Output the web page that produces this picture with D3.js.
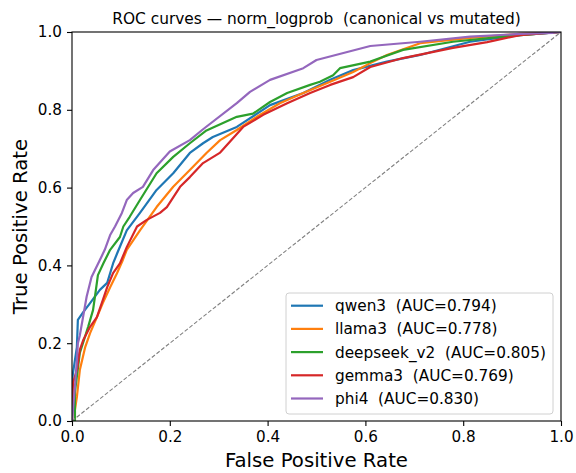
<!DOCTYPE html>
<html>
<head>
<meta charset="utf-8">
<script src="https://cdn.jsdelivr.net/npm/d3@7"></script>
<style>
  body { margin: 0; background: #fff; }
  svg { font-family: "DejaVu Sans", sans-serif; }
</style>
</head>
<body>
<div id="chart"></div>
<script>
// models and their AUC values
var models = ["qwen3", "llama3", "deepseek_v2", "gemma3", "phi4"];
var aucs = ["0.794", "0.778", "0.805", "0.769", "0.830"];
var colors = ["#1f77b4", "#ff7f0e", "#2ca02c", "#d62728", "#9467bd"];
var ticks = [0, 0.2, 0.4, 0.6, 0.8, 1.0];

// ROC points (fpr, tpr)
var qwen3Fpr = [0, 0, 0.002, 0.010, 0.012, 0.023, 0.037, 0.057, 0.072, 0.084, 0.092, 0.112, 0.139, 0.173, 0.207, 0.241, 0.268, 0.288, 0.337, 0.405, 0.473, 0.528, 0.575, 0.644, 0.712, 0.814, 0.916, 1.0];
var qwen3Tpr = [0, 0.10, 0.123, 0.19, 0.26, 0.28, 0.303, 0.337, 0.355, 0.405, 0.43, 0.49, 0.535, 0.594, 0.637, 0.689, 0.714, 0.73, 0.756, 0.812, 0.843, 0.877, 0.902, 0.924, 0.941, 0.975, 0.992, 1.0];

var llama3Fpr = [0, 0.006, 0.006, 0.010, 0.016, 0.027, 0.037, 0.051, 0.063, 0.078, 0.092, 0.104, 0.112, 0.139, 0.173, 0.207, 0.241, 0.275, 0.303, 0.337, 0.378, 0.425, 0.473, 0.528, 0.575, 0.61, 0.644, 0.712, 0.814, 0.916, 1.0];
var llama3Tpr = [0, 0, 0.028, 0.062, 0.131, 0.19, 0.226, 0.267, 0.303, 0.344, 0.38, 0.414, 0.44, 0.49, 0.55, 0.602, 0.645, 0.689, 0.722, 0.748, 0.782, 0.817, 0.843, 0.872, 0.897, 0.92, 0.941, 0.971, 0.985, 0.995, 1.0];

var deepseekFpr = [0, 0.006, 0.006, 0.016, 0.033, 0.043, 0.047, 0.053, 0.064, 0.078, 0.098, 0.105, 0.118, 0.139, 0.173, 0.207, 0.241, 0.275, 0.337, 0.37, 0.405, 0.44, 0.487, 0.507, 0.534, 0.548, 0.61, 0.677, 0.779, 0.881, 0.95, 1.0];
var deepseekTpr = [0, 0, 0.075, 0.175, 0.242, 0.285, 0.32, 0.375, 0.405, 0.44, 0.473, 0.5, 0.525, 0.568, 0.637, 0.679, 0.714, 0.747, 0.782, 0.79, 0.82, 0.843, 0.864, 0.872, 0.889, 0.907, 0.924, 0.954, 0.975, 0.988, 0.995, 1.0];

var gemma3Fpr = [0, 0.002, 0.010, 0.016, 0.023, 0.037, 0.051, 0.063, 0.072, 0.084, 0.098, 0.112, 0.133, 0.153, 0.18, 0.194, 0.207, 0.221, 0.241, 0.268, 0.303, 0.35, 0.391, 0.44, 0.487, 0.528, 0.575, 0.61, 0.677, 0.779, 0.849, 0.916, 0.98, 1.0];
var gemma3Tpr = [0, 0.098, 0.131, 0.183, 0.208, 0.242, 0.267, 0.311, 0.344, 0.38, 0.405, 0.447, 0.5, 0.517, 0.535, 0.55, 0.575, 0.602, 0.627, 0.663, 0.69, 0.756, 0.787, 0.817, 0.843, 0.864, 0.884, 0.91, 0.933, 0.959, 0.974, 0.992, 0.998, 1.0];

var phi4Fpr = [0, 0.006, 0.010, 0.012, 0.016, 0.030, 0.040, 0.047, 0.057, 0.067, 0.078, 0.088, 0.102, 0.112, 0.125, 0.145, 0.166, 0.2, 0.241, 0.268, 0.337, 0.364, 0.405, 0.473, 0.5, 0.61, 0.712, 0.814, 0.916, 0.984, 1.0];
var phi4Tpr = [0, 0.088, 0.157, 0.2, 0.22, 0.32, 0.37, 0.388, 0.414, 0.44, 0.478, 0.5, 0.535, 0.568, 0.586, 0.602, 0.645, 0.693, 0.722, 0.75, 0.817, 0.846, 0.877, 0.907, 0.928, 0.964, 0.975, 0.988, 0.995, 0.998, 1.0];

var fprs = [qwen3Fpr, llama3Fpr, deepseekFpr, gemma3Fpr, phi4Fpr];
var tprs = [qwen3Tpr, llama3Tpr, deepseekTpr, gemma3Tpr, phi4Tpr];

var margin = { top: 32, right: 15, bottom: 52, left: 72 };
var width = 576 - margin.left - margin.right,
    height = 473 - margin.top - margin.bottom;

var svg = d3.select("#chart").append("svg")
  .attr("width", 576)
  .attr("height", 473);

var g = svg.append("g")
  .attr("transform", "translate(" + margin.left + "," + margin.top + ")");

var x = d3.scaleLinear().domain([0, 1]).range([0, width]);
var y = d3.scaleLinear().domain([0, 1]).range([height, 0]);

g.append("defs").append("clipPath").attr("id", "clip")
  .append("rect").attr("width", width).attr("height", height);

var line = d3.line()
  .x(d => x(d[0]))
  .y(d => y(d[1]));

var plot = g.append("g").attr("clip-path", "url(#clip)");

models.forEach(function (m, i) {
  var pts = fprs[i].map((f, j) => [f, tprs[i][j]]);
  plot.append("path")
    .attr("d", line(pts))
    .attr("fill", "none")
    .attr("stroke", colors[i])
    .attr("stroke-width", 2.2)
    .attr("stroke-linejoin", "round");
});

// chance diagonal
plot.append("path")
  .attr("d", line([[0, 0], [1, 1]]))
  .attr("fill", "none")
  .attr("stroke", "#808080")
  .attr("stroke-width", 1.1)
  .attr("stroke-dasharray", "4,2");

// axes
var xAxis = d3.axisBottom(x).tickValues(ticks).tickFormat(d3.format(".1f")).tickSize(5).tickPadding(5);
var yAxis = d3.axisLeft(y).tickValues(ticks).tickFormat(d3.format(".1f")).tickSize(5).tickPadding(5);

g.append("g")
  .attr("transform", "translate(0," + height + ")")
  .call(xAxis)
  .call(a => a.select(".domain").remove());

g.append("g")
  .call(yAxis)
  .call(a => a.select(".domain").remove());

g.selectAll(".tick text").attr("font-size", 15.2).attr("fill", "#000").attr("font-family", "DejaVu Sans");
g.selectAll(".tick line").attr("stroke", "#000").attr("stroke-width", 1.1);

g.append("rect")
  .attr("width", width).attr("height", height)
  .attr("fill", "none").attr("stroke", "#000").attr("stroke-width", 1.1);

// titles
svg.append("text")
  .attr("x", margin.left + width / 2).attr("y", 24)
  .attr("text-anchor", "middle").attr("font-size", 15.4)
  .style("white-space", "pre")
  .text("ROC curves \u2014 norm_logprob  (canonical vs mutated)");

svg.append("text")
  .attr("x", margin.left + width / 2).attr("y", 467)
  .attr("text-anchor", "middle").attr("font-size", 19.7)
  .text("False Positive Rate");

svg.append("text")
  .attr("transform", "translate(27," + (margin.top + height / 2) + ") rotate(-90)")
  .attr("text-anchor", "middle").attr("font-size", 19.7)
  .text("True Positive Rate");

// legend
var legend = svg.append("g").attr("transform", "translate(286,293)");
legend.append("rect")
  .attr("width", 267).attr("height", 121).attr("rx", 3)
  .attr("fill", "#fff").attr("fill-opacity", 0.8)
  .attr("stroke", "#d0d0d0").attr("stroke-width", 1);

models.forEach(function (m, i) {
  var row = legend.append("g").attr("transform", "translate(0," + (12.7 + i * 23.2) + ")");
  row.append("line")
    .attr("x1", 5).attr("x2", 37)
    .attr("stroke", colors[i]).attr("stroke-width", 2.2);
  row.append("text")
    .attr("x", 49).attr("dy", "0.36em")
    .attr("font-size", 15.3)
    .style("white-space", "pre")
    .text(m + "  (AUC=" + aucs[i] + ")");
});
</script>
</body>
</html>
